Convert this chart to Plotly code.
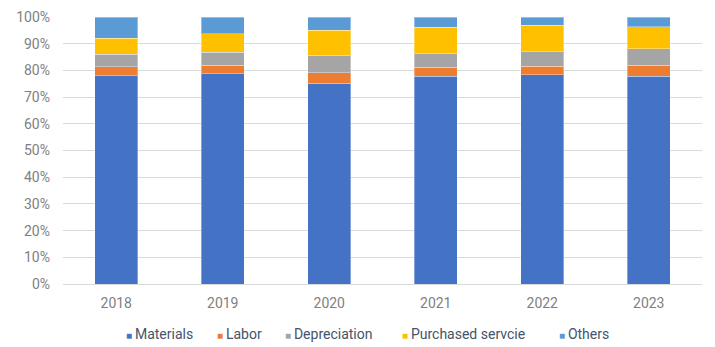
import plotly.graph_objects as go

years = ["2018", "2019", "2020", "2021", "2022", "2023"]
materials = [78.0, 78.7, 75.1, 77.9, 78.3, 77.9]
labor = [3.4, 3.2, 4.0, 3.3, 3.3, 4.0]
depreciation = [4.7, 4.9, 6.5, 5.1, 5.4, 6.2]
purchased = [5.9, 7.0, 9.4, 9.8, 9.9, 8.3]
others = [8.0, 6.2, 5.0, 3.9, 3.1, 3.6]

series = [
    ("Materials", materials, "#4472C4"),
    ("Labor", labor, "#ED7D31"),
    ("Depreciation", depreciation, "#A5A5A5"),
    ("Purchased servcie", purchased, "#FFC000"),
    ("Others", others, "#5B9BD5"),
]

fig = go.Figure()
for name, vals, color in series:
    fig.add_trace(go.Bar(
        x=years, y=vals, name=name, showlegend=False,
        marker=dict(color=color, line=dict(color="rgba(255,255,255,0.35)", width=1)),
    ))

# Compact legend row below the axis: one small square + name per series
legend_left_px = [124, 215, 283, 400, 557]
plot_left, plot_width = 63, 639
for (name, _, color), px in zip(series, legend_left_px):
    fig.add_annotation(
        text=f"<span style='color:{color};font-size:10px'>■</span>\u2009{name}",
        xref="paper", yref="paper",
        x=(px - plot_left) / plot_width, y=-0.187,
        xanchor="left", yanchor="middle", showarrow=False,
        font=dict(family="Roboto, Arial, sans-serif", size=14, color="#44546A"),
    )

fig.update_layout(
    barmode="stack",
    bargap=0.6,
    width=715, height=347,
    margin=dict(l=63, r=13, t=17, b=63, autoexpand=False),
    paper_bgcolor="white",
    plot_bgcolor="white",
    font=dict(family="Roboto, Arial, sans-serif", size=14, color="#7F7F7F"),
    showlegend=False,
    xaxis=dict(showgrid=False, showline=True, linecolor="#D9D9D9", linewidth=1,
               ticks="", ticklabelstandoff=6, automargin=False),
    yaxis=dict(range=[0, 100], dtick=10, ticksuffix="%", showgrid=True,
               gridcolor="#D9D9D9", gridwidth=1, zeroline=False,
               ticklabelstandoff=12, automargin=False),
)

fig.write_html("out.html")
